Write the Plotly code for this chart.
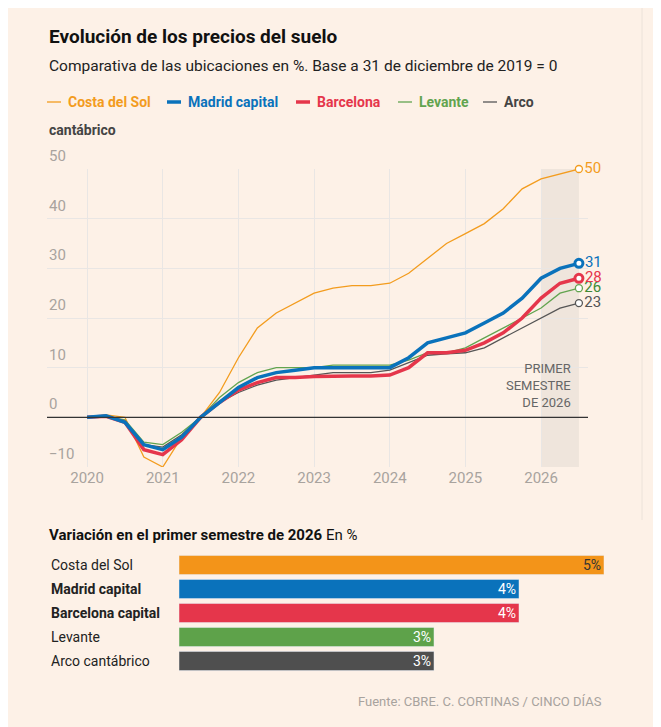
import plotly.graph_objects as go

W, H = 661, 727
x = [2020 + i * 0.25 for i in range(27)]
costa = [0,0.5,0,-8,-10,-4,0,5,12,18,21,23,25,26,26.5,26.5,27,29,32,35,37,39,42,46,48,49,50]
madrid = [0,0.3,-1,-5.5,-6.5,-4,0,3,6,8,9,9.5,10,10,10,10,10,12,15,16,17,19,21,24,28,30,31]
barcelona = [0,0.2,-1,-6.5,-7.5,-4.5,0,3,5.5,7,8,8,8.2,8.3,8.3,8.3,8.5,10,13,13,13.5,15,17,20,24,27,28]
levante = [0,0.2,-0.5,-5,-5.5,-3,0,4,7,9,10,10,10,10.5,10.5,10.5,10.5,11.5,13,13,14,16,18,20,22,25,26]
arco = [0,0.2,-0.8,-5.5,-6,-3.5,0,3,5,6.5,7.5,8,8.5,9,9,9,9.5,11,12.5,12.8,13,14,16,18,20,22,23]

bar_cats = ["Costa del Sol", "Madrid capital", "Barcelona capital", "Levante", "Arco cantábrico"]
bar_vals = [5, 4, 4, 3, 3]
bar_bold = [False, True, True, False, False]
bar_colors = ["#f39419", "#0a72bb", "#e5364b", "#5ea24a", "#4f4f4f"]

series = [
    ("Costa del Sol", costa, "#f39c1e", 1.3, "#f39c1e"),
    ("Arco cantábrico", arco, "#555555", 1.3, "#555555"),
    ("Levante", levante, "#62a44f", 1.3, "#3f8a35"),
    ("Barcelona", barcelona, "#e5364b", 3.5, "#e5364b"),
    ("Madrid capital", madrid, "#0a72bb", 3.5, "#0a72bb"),
]
BG = "#fdf1e7"
GRID = "#e9e6e4"
GRAY = "#a8a39e"
FONT = "Roboto"
OFF = 8

def px(v): return (v - OFF) / W
def py(v): return 1 - (v - OFF) / H

fig = go.Figure()
for name, ys, col, w, tc in series:
    fig.add_trace(go.Scatter(x=x, y=ys, mode="lines", line=dict(color=col, width=w),
                             showlegend=False, xaxis="x", yaxis="y", hoverinfo="skip"))
    fig.add_trace(go.Scatter(x=[x[-1]], y=[ys[-1]], mode="markers+text", cliponaxis=False,
                             marker=dict(size=8 if w > 2 else 7, color="white",
                                         line=dict(color=col, width=3 if w > 2 else 1.3)),
                             text=[str(ys[-1])], textposition="middle right",
                             textfont=dict(color=tc, size=15, family=FONT),
                             showlegend=False, xaxis="x", yaxis="y", hoverinfo="skip"))

fig.add_trace(go.Bar(x=bar_vals, y=bar_cats, orientation="h", marker=dict(color=bar_colors),
                     width=0.8, text=[f"{v}%" for v in bar_vals], textposition="inside",
                     insidetextanchor="end", constraintext="none",
                     textfont=dict(color=["#333333", "white", "white", "white", "white"], size=14, family=FONT),
                     showlegend=False, xaxis="x2", yaxis="y2", hoverinfo="skip"))

shapes = [
    dict(type="rect", xref="x", yref="y", x0=2026, x1=2026.5, y0=-10, y1=50,
         fillcolor="#efe5dc", line_width=0, layer="below"),
    dict(type="line", xref="x", yref="y", x0=2019.47, x1=2026.62, y0=0, y1=0,
         line=dict(color="#333333", width=1.2)),
    dict(type="line", xref="paper", yref="paper", x0=px(642), x1=px(642), y0=py(8), y1=py(520),
         line=dict(color="#ece2d9", width=1)),
]
ann = [
    dict(x=px(47), y=py(37), text="<b>Evolución de los precios del suelo</b>", font=dict(size=19, color="#111", family=FONT)),
    dict(x=px(47), y=py(66), text="Comparativa de las ubicaciones en %. Base a 31 de diciembre de 2019 = 0", font=dict(size=15.5, color="#222", family=FONT)),
    dict(x=px(47), y=py(535), text="<b>Variación en el primer semestre de 2026</b> En %", font=dict(size=15, color="#111", family=FONT)),
    dict(x=px(604), y=py(701), text="Fuente: CBRE. C. CORTINAS / CINCO DÍAS", xanchor="right", font=dict(size=13, color=GRAY, family=FONT)),
    dict(x=2026.42, y=6.5, xref="x", yref="y", text="PRIMER<br>SEMESTRE<br>DE 2026", xanchor="right", yanchor="middle",
         align="right", font=dict(size=13, color="#666", family=FONT)),
    dict(x=px(47), y=py(130), text="<b>cantábrico</b>", font=dict(size=14, color="#444", family=FONT)),
]
leg = [("Costa del Sol", "#f39c1e", 47, 1.3), ("Madrid capital", "#0a72bb", 167, 3.5),
       ("Barcelona", "#e5364b", 296, 3.5), ("Levante", "#62a44f", 398, 1.3), ("Arco", "#555555", 483, 1.3)]
for t, c, lx, w in leg:
    shapes.append(dict(type="line", xref="paper", yref="paper", x0=px(lx), x1=px(lx + 14),
                       y0=py(102), y1=py(102), line=dict(color=c, width=w)))
    ann.append(dict(x=px(lx + 19), y=py(102), text=f"<b>{t}</b>",
                    font=dict(size=14, color=c if t != "Arco" else "#444", family=FONT)))
for v in range(-10, 60, 10):
    ann.append(dict(x=px(47), y=v, xref="paper", yref="y", text=str(v).replace("-", "−"), yanchor="bottom",
                    yshift=2, font=dict(size=15, color=GRAY, family=FONT)))
for c, b in zip(bar_cats, bar_bold):
    ann.append(dict(x=px(49), y=c, xref="paper", yref="y2", text=f"<b>{c}</b>" if b else c,
                    font=dict(size=14, color="#222", family=FONT)))
for a in ann:
    a.setdefault("xref", "paper"); a.setdefault("yref", "paper")
    a.setdefault("xanchor", "left"); a.setdefault("yanchor", "middle")
    a["showarrow"] = False

fig.update_layout(
    width=W, height=H, margin=dict(l=0, r=0, t=0, b=0),
    paper_bgcolor=BG, plot_bgcolor=BG, font=dict(family=FONT),
    xaxis=dict(domain=[px(47), px(588)], range=[2019.47, 2026.62], tickvals=list(range(2020, 2027)),
               showgrid=True, gridcolor=GRID, zeroline=False, tickfont=dict(size=15, color=GRAY), ticks=""),
    yaxis=dict(domain=[py(467), py(169)], range=[-10, 50], tickvals=list(range(-10, 60, 10)),
               showticklabels=False, showgrid=True, gridcolor=GRID, zeroline=False),
    xaxis2=dict(domain=[px(179), px(604)], range=[0, 5], visible=False, anchor="y2"),
    yaxis2=dict(domain=[py(673), py(553)], autorange="reversed", visible=False, anchor="x2"),
    shapes=shapes, annotations=ann, bargap=0.2,
)
fig.write_html("out.html")
